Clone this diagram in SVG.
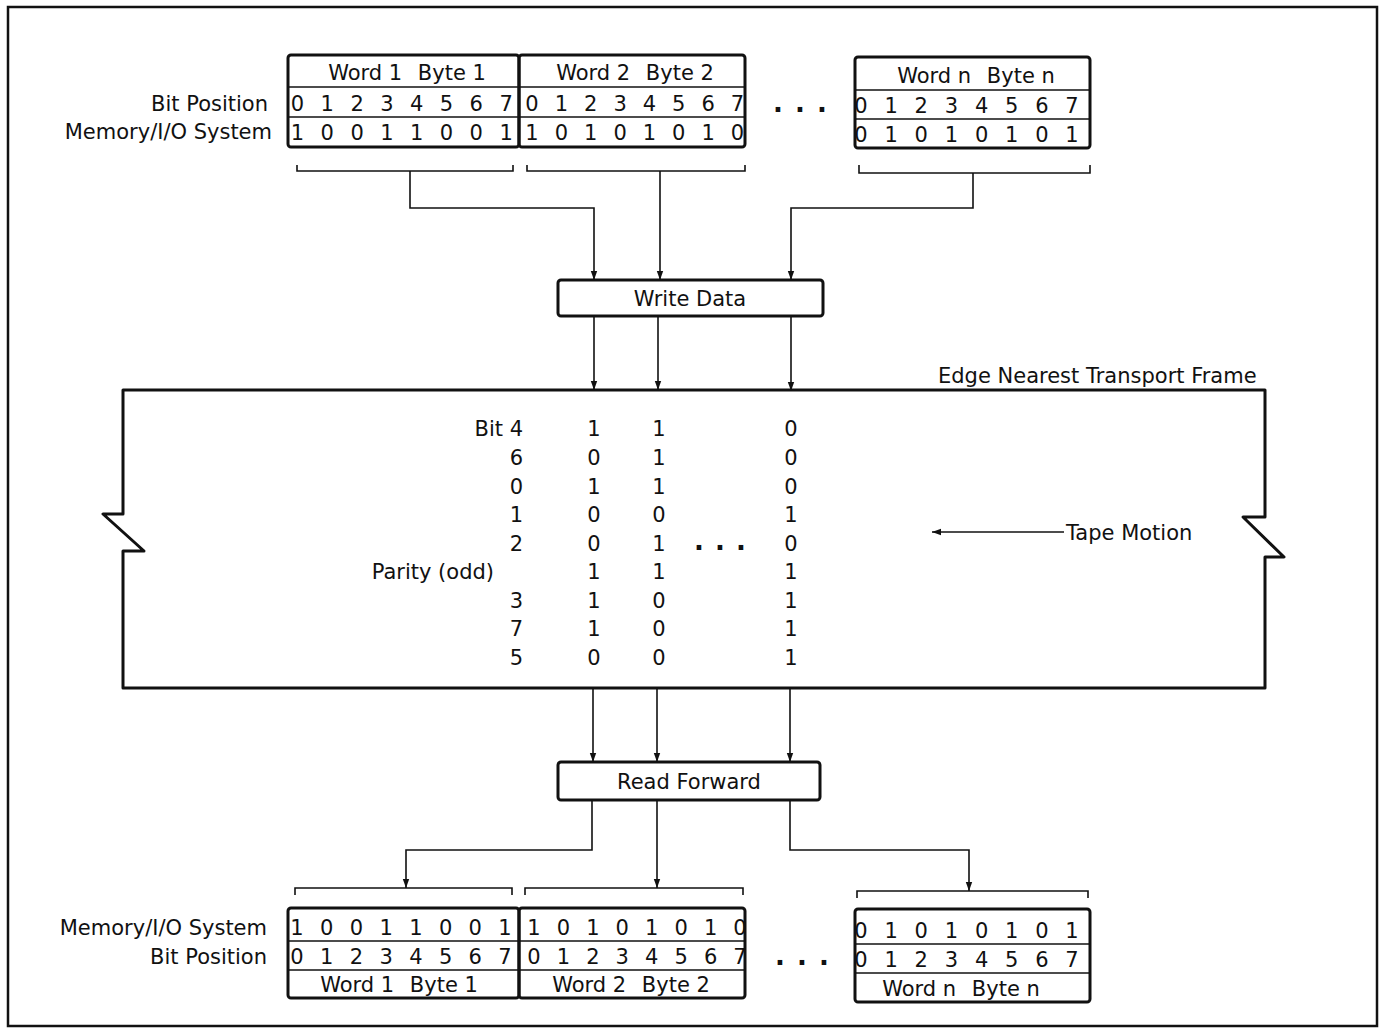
<svg xmlns="http://www.w3.org/2000/svg" width="1380" height="1030" viewBox="0 0 1380 1030">
<style>
text{font-family:"DejaVu Sans","Liberation Sans",sans-serif;font-size:21px;fill:#111}
.m{text-anchor:middle}
.e{text-anchor:end}
.hd{text-anchor:middle}
.dots{text-anchor:middle;font-size:26px;font-weight:bold}
.box{fill:none;stroke:#111;stroke-width:3}
.row{fill:none;stroke:#111;stroke-width:1.5}
.br{fill:none;stroke:#111;stroke-width:1.6}
.cn{fill:none;stroke:#111;stroke-width:1.6}
.frame{fill:none;stroke:#111;stroke-width:3;stroke-linejoin:round}
</style>
<defs>
<marker id="ah" markerUnits="userSpaceOnUse" markerWidth="10" markerHeight="8" refX="9" refY="4" orient="auto">
<path d="M0,0.8 L9,4 L0,7.2 z" fill="#111"/>
</marker>
</defs>
<rect x="0" y="0" width="1380" height="1030" fill="#fff"/>
<rect x="8" y="7" width="1369" height="1019" fill="none" stroke="#111" stroke-width="2.5"/>

<g id="labels-top">
<text class="e" x="268" y="111">Bit Position</text>
<text class="e" x="272" y="139">Memory/I/O System</text>
<text class="dots" x="778 789 800 811 822" y="112">. . .</text>
</g>

<g id="top-word1">
<rect class="box" x="288" y="55" width="231" height="92" rx="3"/>
<line class="row" x1="288" y1="87" x2="519" y2="87"/>
<line class="row" x1="288" y1="117" x2="519" y2="117"/>
<text class="hd" x="407" y="80">Word 1<tspan dx="9"> Byte 1</tspan></text>
<text class="m" x="297.5 312.4 327.3 342.2 357.1 372 386.9 401.8 416.7 431.6 446.5 461.4 476.3 491.2 506.1" y="111">0 1 2 3 4 5 6 7</text>
<text class="m" x="297.5 312.4 327.3 342.2 357.1 372 386.9 401.8 416.7 431.6 446.5 461.4 476.3 491.2 506.1" y="140">1 0 0 1 1 0 0 1</text>
</g>
<g id="top-word2">
<rect class="box" x="519" y="55" width="226" height="92" rx="3"/>
<line class="row" x1="519" y1="87" x2="745" y2="87"/>
<line class="row" x1="519" y1="117" x2="745" y2="117"/>
<text class="hd" x="635" y="80">Word 2<tspan dx="9"> Byte 2</tspan></text>
<text class="m" x="532 546.7 561.4 576 590.7 605.4 620.1 634.8 649.4 664.1 678.8 693.5 708.1 722.8 737.5" y="111">0 1 2 3 4 5 6 7</text>
<text class="m" x="532 546.7 561.4 576 590.7 605.4 620.1 634.8 649.4 664.1 678.8 693.5 708.1 722.8 737.5" y="140">1 0 1 0 1 0 1 0</text>
</g>
<g id="top-wordn">
<rect class="box" x="855" y="57" width="235" height="91" rx="3"/>
<line class="row" x1="855" y1="90" x2="1090" y2="90"/>
<line class="row" x1="855" y1="119" x2="1090" y2="119"/>
<text class="hd" x="976" y="83">Word n<tspan dx="9"> Byte n</tspan></text>
<text class="m" x="861 876.1 891.1 906.2 921.3 936.4 951.4 966.5 981.6 996.6 1011.7 1026.8 1041.9 1056.9 1072" y="113">0 1 2 3 4 5 6 7</text>
<text class="m" x="861 876.1 891.1 906.2 921.3 936.4 951.4 966.5 981.6 996.6 1011.7 1026.8 1041.9 1056.9 1072" y="142">0 1 0 1 0 1 0 1</text>
</g>

<g id="write-data">
<rect class="box" x="558" y="280" width="265" height="36" rx="3"/>
<text class="m" x="690" y="306">Write Data</text>
</g>

<g id="tape">
<path class="frame" d="M123,390 H1265 V517 H1243 L1284,557 H1265 V688 H123 V551 H144 L103,514 H123 Z"/>
<text x="938" y="383">Edge Nearest Transport Frame</text>
<text class="e" x="523" y="436">Bit 4</text>
<text class="e" x="523" y="465">6</text>
<text class="e" x="523" y="494">0</text>
<text class="e" x="523" y="522">1</text>
<text class="e" x="523" y="551">2</text>
<text class="e" x="494" y="579">Parity (odd)</text>
<text class="e" x="523" y="608">3</text>
<text class="e" x="523" y="636">7</text>
<text class="e" x="523" y="665">5</text>
<text class="m" x="594" y="436">1</text>
<text class="m" x="594" y="465">0</text>
<text class="m" x="594" y="494">1</text>
<text class="m" x="594" y="522">0</text>
<text class="m" x="594" y="551">0</text>
<text class="m" x="594" y="579">1</text>
<text class="m" x="594" y="608">1</text>
<text class="m" x="594" y="636">1</text>
<text class="m" x="594" y="665">0</text>
<text class="m" x="659" y="436">1</text>
<text class="m" x="659" y="465">1</text>
<text class="m" x="659" y="494">1</text>
<text class="m" x="659" y="522">0</text>
<text class="m" x="659" y="551">1</text>
<text class="m" x="659" y="579">1</text>
<text class="m" x="659" y="608">0</text>
<text class="m" x="659" y="636">0</text>
<text class="m" x="659" y="665">0</text>
<text class="m" x="791" y="436">0</text>
<text class="m" x="791" y="465">0</text>
<text class="m" x="791" y="494">0</text>
<text class="m" x="791" y="522">1</text>
<text class="m" x="791" y="551">0</text>
<text class="m" x="791" y="579">1</text>
<text class="m" x="791" y="608">1</text>
<text class="m" x="791" y="636">1</text>
<text class="m" x="791" y="665">1</text>
<text class="dots" x="699 709.5 720 730.5 741" y="550">. . .</text>
<text x="1066" y="540">Tape Motion</text>
</g>

<g id="read-forward">
<rect class="box" x="558" y="762" width="262" height="38" rx="3"/>
<text class="m" x="689" y="789">Read Forward</text>
</g>

<g id="labels-bottom">
<text class="e" x="267" y="935">Memory/I/O System</text>
<text class="e" x="267" y="964">Bit Position</text>
<text class="dots" x="780 791 802 813 824" y="965">. . .</text>
</g>

<g id="bottom-word1">
<rect class="box" x="288" y="908" width="231" height="90" rx="3"/>
<line class="row" x1="288" y1="941" x2="519" y2="941"/>
<line class="row" x1="288" y1="970" x2="519" y2="970"/>
<text class="m" x="297 311.9 326.7 341.6 356.4 371.3 386.1 401 415.9 430.7 445.6 460.4 475.3 490.1 505" y="935">1 0 0 1 1 0 0 1</text>
<text class="m" x="297 311.9 326.7 341.6 356.4 371.3 386.1 401 415.9 430.7 445.6 460.4 475.3 490.1 505" y="964">0 1 2 3 4 5 6 7</text>
<text class="hd" x="399" y="992">Word 1<tspan dx="9"> Byte 1</tspan></text>
</g>
<g id="bottom-word2">
<rect class="box" x="519" y="908" width="226" height="90" rx="3"/>
<line class="row" x1="519" y1="941" x2="745" y2="941"/>
<line class="row" x1="519" y1="970" x2="745" y2="970"/>
<text class="m" x="534 548.7 563.4 578.1 592.9 607.6 622.3 637 651.7 666.4 681.1 695.9 710.6 725.3 740" y="935">1 0 1 0 1 0 1 0</text>
<text class="m" x="534 548.7 563.4 578.1 592.9 607.6 622.3 637 651.7 666.4 681.1 695.9 710.6 725.3 740" y="964">0 1 2 3 4 5 6 7</text>
<text class="hd" x="631" y="992">Word 2<tspan dx="9"> Byte 2</tspan></text>
</g>
<g id="bottom-wordn">
<rect class="box" x="855" y="909" width="235" height="93" rx="3"/>
<line class="row" x1="855" y1="944" x2="1090" y2="944"/>
<line class="row" x1="855" y1="973" x2="1090" y2="973"/>
<text class="m" x="861 876.1 891.1 906.2 921.3 936.4 951.4 966.5 981.6 996.6 1011.7 1026.8 1041.9 1056.9 1072" y="938">0 1 0 1 0 1 0 1</text>
<text class="m" x="861 876.1 891.1 906.2 921.3 936.4 951.4 966.5 981.6 996.6 1011.7 1026.8 1041.9 1056.9 1072" y="967">0 1 2 3 4 5 6 7</text>
<text class="hd" x="961" y="996">Word n<tspan dx="9"> Byte n</tspan></text>
</g>

<g id="connectors">
<path class="br" d="M297,165 V171 H513 V165"/>
<path class="br" d="M527,165 V171 H745 V165"/>
<path class="br" d="M859,165 V173 H1090 V165"/>
<path class="br" d="M295,895 V888 H512 V895"/>
<path class="br" d="M525,895 V888 H743 V895"/>
<path class="br" d="M857,898 V891 H1088 V898"/>
<path class="cn" d="M410,171 V208 H594 V280" marker-end="url(#ah)"/>
<path class="cn" d="M660,171 V280" marker-end="url(#ah)"/>
<path class="cn" d="M973,173 V208 H791 V280" marker-end="url(#ah)"/>
<path class="cn" d="M594,316 V390" marker-end="url(#ah)"/>
<path class="cn" d="M658,316 V390" marker-end="url(#ah)"/>
<path class="cn" d="M791,316 V391" marker-end="url(#ah)"/>
<path class="cn" d="M593,688 V762" marker-end="url(#ah)"/>
<path class="cn" d="M657,688 V762" marker-end="url(#ah)"/>
<path class="cn" d="M790,688 V762" marker-end="url(#ah)"/>
<path class="cn" d="M592,800 V850 H406 V888" marker-end="url(#ah)"/>
<path class="cn" d="M657,800 V888" marker-end="url(#ah)"/>
<path class="cn" d="M790,800 V850 H969 V891" marker-end="url(#ah)"/>
<path class="cn" d="M1064,532 H932" marker-end="url(#ah)"/>
</g>
</svg>
